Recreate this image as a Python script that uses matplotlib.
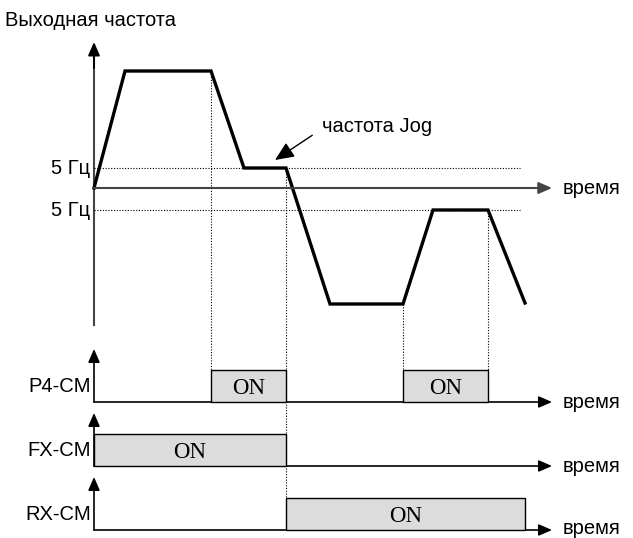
"""
Временная диаграмма: выходная частота и сигналы P4-CM, FX-CM, RX-CM (режим Jog).
"""

import matplotlib.pyplot as plt

# --- данные (время в условных единицах, частота в условных единицах) ---
t_pts = [0, 31, 117, 150, 192, 236, 309, 339, 394, 431]
f_pts = [0, 117, 117, 20, 20, -116, -116, -22, -22, -115]

jog_f = 20          # уровень +5 Гц
jog_f_neg = -22     # уровень -5 Гц
t_end = 458         # конец оси времени (стрелка)

lane_names = ['P4-CM', 'FX-CM', 'RX-CM']
lane_base = [-214, -278, -342]
lane_on = [[(117, 192), (309, 394)],
           [(0, 192)],
           [(192, 431)]]
box_h = 32

# вертикальные пунктирные линии: (t, f_верх, нижняя граница)
v_marks = [(117, 117, -182), (192, 20, -310), (309, -116, -182), (394, -22, -182)]

sans = ['Liberation Sans', 'DejaVu Sans']
serif = ['Liberation Serif', 'DejaVu Serif']
fs = 14.5

fig = plt.figure(figsize=(6.33, 5.38), dpi=100)
ax = fig.add_axes([0, 0, 1, 1])
ax.set_xlim(-94, 539)
ax.set_ylim(-350, 188)
ax.axis('off')

HEAD = '-|>,head_length=0.8,head_width=0.35'


def arrow(ax, x0, y0, x1, y1, color='#333333', lw=1.4):
    ax.annotate('', xy=(x1, y1), xytext=(x0, y0),
                arrowprops=dict(arrowstyle=HEAD, color=color, lw=lw,
                                shrinkA=0, shrinkB=0))


# --- оси частоты ---
ax.plot([0, 0], [-137, 130], color='#444444', lw=1.5)
arrow(ax, 0, 120, 0, 146, color='black')
arrow(ax, 0, 0, t_end, 0, color='#444444', lw=1.5)
ax.text(t_end + 11, 0, 'время', family=sans, fontsize=fs, va='center', ha='left')

# пунктир 5 Гц
ax.plot([0, 426], [jog_f, jog_f], color='black', lw=0.8, ls=(0, (1, 1.5)))
ax.plot([0, 426], [jog_f_neg, jog_f_neg], color='black', lw=0.8, ls=(0, (1, 1.5)))
ax.text(-4, jog_f, '5 Гц', family=sans, fontsize=fs, va='center', ha='right')
ax.text(-4, jog_f_neg, '5 Гц', family=sans, fontsize=fs, va='center', ha='right')

# вертикальные пунктиры
for t, ftop, fbot in v_marks:
    ax.plot([t, t], [ftop, fbot], color='black', lw=0.8, ls=(0, (1, 1.5)))

# кривая частоты
ax.plot(t_pts, f_pts, color='black', lw=2.4, solid_joinstyle='miter')

ax.text(-89, 168, 'Выходная частота', family=sans, fontsize=fs, va='center', ha='left')

# подпись Jog
ax.annotate('частота Jog', xy=(181, 28), xytext=(228, 62),
            family=sans, fontsize=fs, va='center', ha='left',
            arrowprops=dict(arrowstyle=HEAD, color='black', lw=1.0,
                            shrinkA=6, shrinkB=0, relpos=(0, 0.35)))

# --- дорожки сигналов ---
for name, base, ons in zip(lane_names, lane_base, lane_on):
    arrow(ax, 0, base, 0, base + 53, color='black', lw=1.2)
    arrow(ax, 0, base, t_end, base, color='black', lw=1.2)
    for a, b in ons:
        ax.add_patch(plt.Rectangle((a, base), b - a, box_h, facecolor='#dcdcdc',
                                   edgecolor='black', lw=1.0, zorder=3))
        ax.text((a + b) / 2, base + box_h / 2 - 2, 'ON', family=serif, fontsize=16.5,
                ha='center', va='center', zorder=4)
    ax.text(-3, base + 16, name, family=sans, fontsize=fs, va='center', ha='right')
    ax.text(t_end + 11, base + (1 if base == lane_base[-1] else 0), 'время',
            family=sans, fontsize=fs, va='center', ha='left')

plt.savefig('out.png', dpi=100)
plt.close()
